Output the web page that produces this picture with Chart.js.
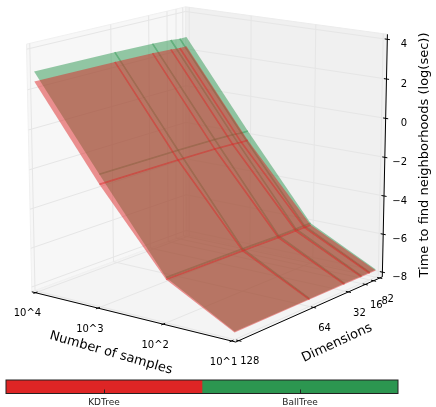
<!DOCTYPE html>
<html>
<head>
<meta charset="utf-8">
<script src="https://cdn.jsdelivr.net/npm/chart.js@4"></script>
<style>
    html, body { margin: 0; padding: 0; background: #fff; }
    canvas { position: absolute; }
    #surface { left: 0px; top: 0px; }
    #colorbar { left: 0px; top: 375px; }
</style>
</head>
<body>
<canvas id="surface" width="436" height="407"></canvas>
<canvas id="colorbar" width="436" height="32"></canvas>
<script>
const sampleExponents = [1, 2, 3, 4];
const sampleLabels = ["10^1", "10^2", "10^3", "10^4"];
const dimensions = [2, 8, 16, 32, 64, 128];
const dimensionLabels = ["2", "8", "16", "32", "64", "128"];
const timeTicks = [-8, -6, -4, -2, 0, 2, 4];

// one row per sample count, values follow dimensions
const kdTree10 = [-7.9, -7.9, -7.9, -7.9, -7.9, -7.9];
const kdTree100 = [-6.2, -6.2, -6.2, -6.2, -6.15, -6.1];
const kdTree1000 = [-2.3, -2.3, -2.25, -2.2, -2.15, -2.1];
const kdTree10000 = [2.2, 2.2, 2.25, 2.3, 2.35, 2.4];
const ballTree10 = [-7.85, -7.85, -7.85, -7.85, -7.85, -7.85];
const ballTree100 = [-6.1, -6.1, -6.1, -6.1, -6.05, -6.0];
const ballTree1000 = [-1.8, -1.8, -1.75, -1.7, -1.65, -1.6];
const ballTree10000 = [2.7, 2.7, 2.75, 2.8, 2.85, 2.9];

const treeNames = ["KDTree", "BallTree"];
const treeWeights = [1, 1];

const kdRows = [kdTree10, kdTree100, kdTree1000, kdTree10000];
const ballRows = [ballTree10, ballTree100, ballTree1000, ballTree10000];

// axis limits and camera of the 3d box
const sampleLim = [0.94, 4.06];
const dimLim = [-0.5, 130.5];
const timeLim = [-8.25, 4.25];
const elev = 14.5 * Math.PI / 180;
const azim = 53 * Math.PI / 180;
const camDist = 8.5;

function project(u, v, w) {
    const X = u - 0.5, Y = v - 0.5, Z = w - 0.5;
    const right = -X * Math.sin(azim) + Y * Math.cos(azim);
    const back = X * Math.cos(azim) + Y * Math.sin(azim);
    const up = Z * Math.cos(elev) + back * Math.sin(elev);
    const f = camDist / (camDist + back * Math.cos(elev) - Z * Math.sin(elev));
    return { x: right * f, y: up * f };
}

const toU = (e) => (e - sampleLim[0]) / (sampleLim[1] - sampleLim[0]);
const toV = (d) => (dimLim[1] - d) / (dimLim[1] - dimLim[0]);
const toW = (t) => (t - timeLim[0]) / (timeLim[1] - timeLim[0]);

function path(points, color, width, fillColor) {
    return {
        data: points,
        showLine: true,
        borderColor: color,
        borderWidth: width,
        backgroundColor: fillColor || "transparent",
        fill: fillColor ? "shape" : false,
        pointRadius: 0,
        tension: 0
    };
}

const sets = [];

// panes
sets.push(path([project(1, 0, 0), project(1, 1, 0), project(1, 1, 1), project(1, 0, 1), project(1, 0, 0)], "#f0f0f0", 1, "#f7f7f7"));
sets.push(path([project(0, 1, 0), project(1, 1, 0), project(1, 1, 1), project(0, 1, 1), project(0, 1, 0)], "#ececec", 1, "#f0f0f0"));
sets.push(path([project(0, 0, 0), project(1, 0, 0), project(1, 1, 0), project(0, 1, 0), project(0, 0, 0)], "#f0f0f0", 1, "#f4f4f4"));

// grid
const gridColor = "#e6e6e6";
sampleExponents.forEach((e) => {
    const u = toU(e);
    sets.push(path([project(u, 0, 0), project(u, 1, 0), project(u, 1, 1)], gridColor, 1));
});
dimensions.forEach((d) => {
    const v = toV(d);
    sets.push(path([project(0, v, 0), project(1, v, 0), project(1, v, 1)], gridColor, 1));
});
timeTicks.forEach((t) => {
    const w = toW(t);
    sets.push(path([project(1, 0, w), project(1, 1, w), project(0, 1, w)], gridColor, 1));
});

// axis lines and ticks
sets.push(path([project(1, 0, 0), project(0, 0, 0), project(0, 1, 0), project(0, 1, 1)], "#000", 1));
sampleExponents.forEach((e) => {
    const u = toU(e);
    sets.push(path([project(u, -0.012, 0), project(u, 0.012, 0)], "#000", 1));
});
dimensions.forEach((d) => {
    const v = toV(d);
    sets.push(path([project(-0.012, v, 0), project(0.012, v, 0)], "#000", 1));
});
timeTicks.forEach((t) => {
    const w = toW(t);
    sets.push(path([project(-0.012, 1, w), project(0.012, 1, w)], "#000", 1));
});

// surfaces, green goes under red; only inner mesh lines get a stroke
function addSurface(rows, color) {
    const p = (a, b) => project(toU(sampleExponents[a]), toV(dimensions[b]), toW(rows[a][b]));
    for (let i = 0; i < rows.length - 1; i++) {
        for (let j = 0; j < dimensions.length - 1; j++) {
            sets.push(path([p(i, j), p(i + 1, j), p(i + 1, j + 1), p(i, j + 1), p(i, j)], "transparent", 0, color));
        }
    }
    for (let i = 1; i < rows.length - 1; i++) {
        sets.push(path(dimensions.map((d, j) => p(i, j)), color, 1.6));
    }
    for (let j = 1; j < dimensions.length - 1; j++) {
        sets.push(path(rows.map((r, i) => p(i, j)), color, 1.6));
    }
}
addSurface(ballRows, "rgba(44, 150, 80, 0.5)");
addSurface(kdRows, "rgba(222, 37, 37, 0.5)");

const textPlugin = {
    id: "boxText",
    afterDraw(chart) {
        const ctx = chart.ctx;
        const px = (p) => ({ x: chart.scales.x.getPixelForValue(p.x), y: chart.scales.y.getPixelForValue(p.y) });
        ctx.save();
        ctx.fillStyle = "#000";
        ctx.textBaseline = "middle";
        ctx.font = '10px "DejaVu Sans"';
        ctx.textAlign = "center";
        sampleExponents.forEach((e, i) => {
            const p = px(project(toU(e), 0, 0));
            ctx.fillText(sampleLabels[i], p.x - 8, p.y + 21);
        });
        dimensions.forEach((d, i) => {
            const p = px(project(0, toV(d), 0));
            ctx.fillText(dimensionLabels[i], p.x + 11, p.y + 21);
        });
        ctx.textAlign = "right";
        timeTicks.forEach((t) => {
            const p = px(project(0, 1, toW(t)));
            ctx.fillText(String(t).replace("-", "\u2212"), 407, p.y + 5);
        });
        ctx.textAlign = "center";
        ctx.font = '13px "DejaVu Sans"';
        const label = (text, x, y, angle) => {
            ctx.save();
            ctx.translate(x, y);
            ctx.rotate(angle * Math.PI / 180);
            ctx.fillText(text, 0, 0);
            ctx.restore();
        };
        label("Number of samples", 111, 353, 16);
        label("Dimensions", 337, 343, -25);
        label("Time to find neighborhoods (log(sec))", 425, 155, -90);
        ctx.restore();
    }
};

new Chart(document.getElementById("surface").getContext("2d"), {
    type: "scatter",
    data: { datasets: sets.slice().reverse() },
    options: {
        responsive: false,
        animation: false,
        plugins: { legend: { display: false }, tooltip: { enabled: false } },
        scales: {
            x: { type: "linear", display: false, min: -0.823, max: 0.894 },
            y: { type: "linear", display: false, min: -0.962, max: 0.646 }
        }
    },
    plugins: [textPlugin]
});

const framePlugin = {
    id: "barFrame",
    afterDraw(chart) {
        const a = chart.chartArea;
        chart.ctx.strokeStyle = "#222";
        chart.ctx.lineWidth = 1;
        chart.ctx.strokeRect(a.left, a.top, a.right - a.left, a.bottom - a.top);
    }
};

new Chart(document.getElementById("colorbar").getContext("2d"), {
    type: "bar",
    data: {
        labels: ["trees"],
        datasets: [
            { label: treeNames[0], data: [treeWeights[0]], backgroundColor: "#de2525", barPercentage: 1, categoryPercentage: 1 },
            { label: treeNames[1], data: [treeWeights[1]], backgroundColor: "#2c9650", barPercentage: 1, categoryPercentage: 1 }
        ]
    },
    options: {
        indexAxis: "y",
        responsive: false,
        animation: false,
        layout: { padding: { left: 6, right: 38, top: 5, bottom: 0 } },
        plugins: { legend: { display: false }, tooltip: { enabled: false } },
        scales: {
            y: { stacked: true, display: false },
            x: {
                stacked: true,
                min: 0,
                max: 2,
                afterBuildTicks: (axis) => { axis.ticks = [{ value: 0.5 }, { value: 1.5 }]; },
                grid: { drawOnChartArea: false, tickLength: -4, tickColor: "#222", z: 1 },
                border: { display: false },
                ticks: {
                    color: "#222",
                    font: { family: "DejaVu Sans", size: 9 },
                    padding: 8,
                    maxRotation: 0,
                    callback: (value, index) => treeNames[index]
                }
            }
        }
    },
    plugins: [framePlugin]
});
</script>
</body>
</html>
